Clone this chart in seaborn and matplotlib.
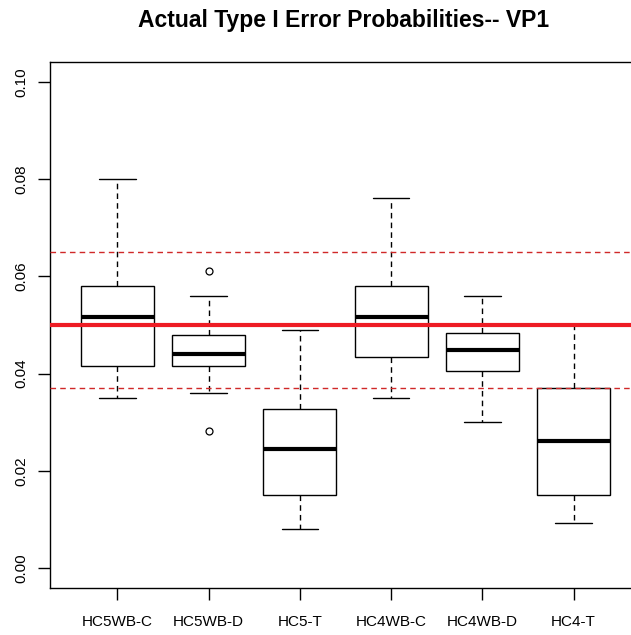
import numpy as np
import pandas as pd
import seaborn as sns
import matplotlib
matplotlib.use("Agg")
import matplotlib.pyplot as plt

# ---- data ----
categories = ["HC5WB-C", "HC5WB-D", "HC5-T", "HC4WB-C", "HC4WB-D", "HC4-T"]
hc5wb_c = [0.0350, 0.0415, 0.0516, 0.0581, 0.0800]
hc5wb_d = [0.0283, 0.0361, 0.0415, 0.0415, 0.0440, 0.0479, 0.0479, 0.0560, 0.0612]
hc5_t   = [0.0081, 0.0151, 0.0245, 0.0327, 0.0489]
hc4wb_c = [0.0350, 0.0435, 0.0516, 0.0581, 0.0761]
hc4wb_d = [0.0301, 0.0405, 0.0449, 0.0484, 0.0560]
hc4_t   = [0.0092, 0.0151, 0.0262, 0.0370, 0.0500]
nominal = 0.05
band = [0.037, 0.065]
yticks = [0.00, 0.02, 0.04, 0.06, 0.08, 0.10]
ytick_labels = ["0.00", "0.02", "0.04", "0.06", "0.08", "0.10"]
title = "Actual Type I Error Probabilities-- VP1"

series = [hc5wb_c, hc5wb_d, hc5_t, hc4wb_c, hc4wb_d, hc4_t]
df = pd.DataFrame({
    "method": np.concatenate([[c] * len(v) for c, v in zip(categories, series)]),
    "value": np.concatenate(series),
})

sns.set_style("white")
plt.rcParams["font.family"] = ["Liberation Sans", "DejaVu Sans"]
plt.rcParams["text.color"] = "black"
plt.rcParams["axes.labelcolor"] = "black"
plt.rcParams["xtick.color"] = "black"
plt.rcParams["ytick.color"] = "black"

W, H = 631, 635
fig = plt.figure(figsize=(W / 100, H / 100), dpi=100)
left_px, right_px, top_px, bot_px = 49.7, 641.2, 62.3, 587.7
ax = fig.add_axes([left_px / W, (H - bot_px) / H, (right_px - left_px) / W, (bot_px - top_px) / H])

sns.boxplot(
    data=df, x="method", y="value", order=categories, ax=ax,
    width=0.8, color="white", linecolor="black", linewidth=1.0, whis=1.5,
    boxprops=dict(edgecolor="black", linewidth=1.0),
    whiskerprops=dict(linestyle=(0, (4, 3)), linewidth=1.0, color="black"),
    capprops=dict(linewidth=1.0, color="black"),
    medianprops=dict(linewidth=3.0, color="black"),
    flierprops=dict(marker="o", markerfacecolor="white", markeredgecolor="black",
                    markersize=5, markeredgewidth=0.9),
)

ax.axhline(nominal, color="#ee1c24", linewidth=3.0, zorder=10)
for b in band:
    ax.axhline(b, color="#d02828", linewidth=1.0, linestyle=(0, (4, 3)), zorder=10)

ax.set_xlim(-0.74, 5.74)
ax.set_ylim(-0.004, 0.104)
ax.set_yticks(yticks)
ax.set_yticklabels(ytick_labels, rotation=90, va="center", fontsize=11, color="black")
ax.set_xticks(range(len(categories)))
ax.set_xticklabels(categories, fontsize=11, color="black")
ax.set_xlabel("")
ax.set_ylabel("")
ax.tick_params(axis="y", direction="out", length=8.4, width=1.0, color="black", pad=6.7, left=True)
ax.tick_params(axis="x", direction="out", length=8.4, width=1.0, color="black", pad=11.5, bottom=True)
for s in ax.spines.values():
    s.set_visible(True)
    s.set_color("black")
    s.set_linewidth(1.0)
ax.grid(False)

fig.text(343.4 / W, (H - 27.3) / H, title, ha="center", va="baseline",
         fontsize=16.5, fontweight="bold", color="black")

fig.savefig("out.png", dpi=100, facecolor="white")
